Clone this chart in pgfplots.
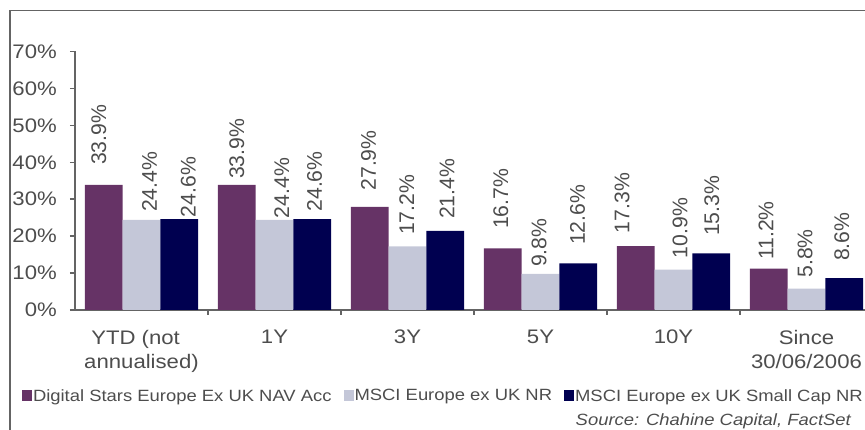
\documentclass[border=0pt]{standalone}
\usepackage{fontspec}
\setmainfont{Liberation Sans}[FakeStretch=1.13]
\newfontfamily\vfont{Liberation Sans}
\usepackage{pgfplots}
\pgfplotsset{compat=1.18}
\definecolor{cpurple}{RGB}{102,51,102}
\definecolor{clight}{RGB}{196,199,216}
\definecolor{cnavy}{RGB}{0,0,80}
\definecolor{txtgray}{RGB}{77,77,77}
\definecolor{axgray}{RGB}{100,100,100}
\newcommand\tfont{\fontsize{19.6}{24.3}\selectfont}
\newcommand\lfont{\fontsize{16.3}{19}\selectfont}
\newcommand\valfont{\vfont\fontsize{21.2}{24}\selectfont}
\begin{document}
\begin{tikzpicture}[x=1pt,y=1pt]
\useasboundingbox (0,0) rectangle (865,430);
\clip (0,0) rectangle (865,430);
\draw[axgray, line width=1.5pt] (10,-5) -- (10,419.5) -- (875,419.5);
\begin{axis}[
  at={(75pt,120pt)}, anchor=south west,
  scale only axis, width=798pt, height=258.5pt,
  xmin=-0.5, xmax=5.5, ymin=0, ymax=70,
  clip=false,
  axis lines*=left,
  axis line style={draw=axgray, line width=1.5pt},
  tick style={draw=axgray, line width=1.5pt},
  tick align=outside, major tick length=5pt,
  xtick={0.5,1.5,2.5,3.5,4.5,5.5}, xticklabels={},
  extra x ticks={0,1,2,3,4,5},
  extra x tick labels={{YTD (not\hspace*{0.6em}\\annualised)},1Y,3Y,5Y,10Y,{Since\\30/06/2006}},
  extra x tick style={major tick length=0pt},
  xticklabel style={align=center, inner sep=0pt, yshift=-20pt, font=\tfont, text=txtgray},
  ytick={0,10,...,70},
  yticklabels={0\%,10\%,20\%,30\%,40\%,50\%,60\%,70\%},
  yticklabel style={inner sep=0pt, xshift=-13pt, font=\tfont, text=txtgray},
  legend columns=3,
  legend image code/.code={\fill[#1, draw=none] (0pt,-5.5pt) rectangle (10pt,5.5pt);},
  legend style={at={(-0.0664,-0.3327)}, anchor=west, draw=none, fill=none,
    inner sep=0pt, outer sep=0pt, font=\lfont, text=txtgray,
    nodes={inner sep=1pt, text=txtgray},
    /tikz/every even column/.append style={column sep=11pt}},
]
\addplot[ybar, bar width=37.7pt, bar shift=-37.7pt, fill=cpurple, draw=none]
  coordinates {(0,33.9) (1,33.9) (2,27.9) (3,16.7) (4,17.3) (5,11.2)};
\addlegendentry{Digital Stars Europe Ex UK NAV Acc}
\addplot[ybar, bar width=37.7pt, bar shift=0pt, fill=clight, draw=none]
  coordinates {(0,24.4) (1,24.4) (2,17.2) (3,9.8) (4,10.9) (5,5.8)};
\addlegendentry{MSCI Europe ex UK NR}
\addplot[ybar, bar width=37.7pt, bar shift=37.7pt, fill=cnavy, draw=none]
  coordinates {(0,24.6) (1,24.6) (2,21.4) (3,12.6) (4,15.3) (5,8.6)};
\addlegendentry{MSCI Europe ex UK Small Cap NR}
\addplot[forget plot, only marks, mark=*, mark size=0pt, draw=none, fill=none,
  point meta=explicit symbolic, nodes near coords,
  nodes near coords style={rotate=90, anchor=west, inner sep=0pt, font=\valfont, text=txtgray}]
  coordinates {
  (-0.320,39.26) [33.9\%] (0.060,26.54) [24.4\%] (0.353,25.10) [24.6\%]
  (0.716,35.47) [33.9\%] (1.054,24.83) [24.4\%] (1.302,26.62) [24.6\%]
  (1.708,32.30) [27.9\%] (1.994,20.31) [17.2\%] (2.297,24.64) [21.4\%]
  (2.702,21.93) [16.7\%] (2.989,11.64) [9.8\%] (3.278,17.60) [12.6\%]
  (3.613,20.77) [17.3\%] (4.049,14.00) [10.9\%] (4.289,20.04) [15.3\%]
  (4.695,13.54) [11.2\%] (4.989,8.75) [5.8\%] (5.265,13.27) [8.6\%]
  };
\end{axis}
\node[anchor=base east, inner sep=0pt, text=txtgray, font=\lfont\itshape] at (851,4) {Source: Chahine Capital, FactSet};
\end{tikzpicture}
\end{document}
